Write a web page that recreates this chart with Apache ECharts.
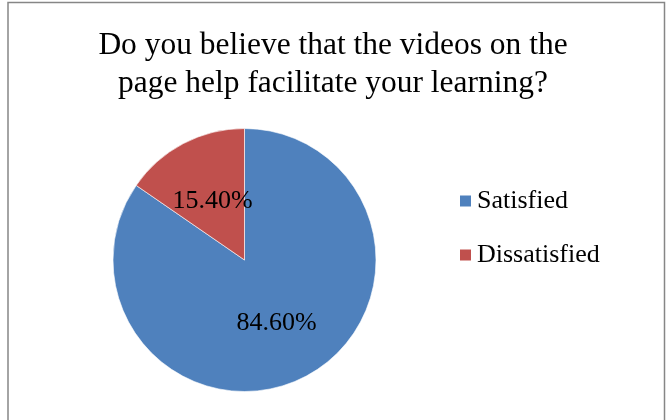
<!DOCTYPE html>
<html>
<head>
<meta charset="utf-8">
<style>
  html, body { margin: 0; padding: 0; background: #fff; }
  #chart { width: 666px; height: 420px; }
</style>
<script src="https://cdn.jsdelivr.net/npm/echarts@6/dist/echarts.min.js"></script>
</head>
<body>
<div id="chart"></div>
<script>
// Survey answers and their shares (percent)
const titleLines = ['Do you believe that the videos on the', 'page help facilitate your learning?'];
const categories = ['Satisfied', 'Dissatisfied'];
const shares = [84.6, 15.4];
const colors = ['#4F81BD', '#C0504D'];

const serif = '"Liberation Serif", "Times New Roman", serif';

const chart = echarts.init(document.getElementById('chart'), null, { renderer: 'canvas' });

chart.setOption({
  animation: false,
  backgroundColor: '#fff',
  color: colors,
  legend: {
    orient: 'vertical',
    left: 458,
    top: 188,
    padding: 0,
    itemWidth: 13,
    itemHeight: 13,
    itemGap: 28,
    icon: 'rect',
    data: categories,
    textStyle: {
      fontFamily: serif,
      fontSize: 26,
      color: '#000'
    }
  },
  graphic: [
    {
      // chart frame
      type: 'rect',
      shape: { x: 8, y: 2.5, width: 656.5, height: 440 },
      style: { fill: null, stroke: '#868686', lineWidth: 1.5 },
      silent: true
    },
    {
      // two-line heading
      type: 'text',
      x: 333,
      y: 27,
      scaleX: 1.015,
      silent: true,
      style: {
        text: titleLines.join('\n'),
        x: 0,
        y: 0,
        align: 'center',
        verticalAlign: 'top',
        font: '31px ' + serif,
        lineHeight: 38,
        fill: '#000'
      }
    }
  ],
  series: [{
    type: 'pie',
    center: [244.5, 260],
    radius: 131.5,
    startAngle: 90,
    clockwise: true,
    data: categories.map((name, i) => ({ name, value: shares[i] })),
    itemStyle: { borderColor: '#fff', borderWidth: 0.6 },
    label: {
      show: true,
      position: 'inside',
      fontFamily: serif,
      fontSize: 26,
      color: '#000',
      formatter: p => p.value.toFixed(2) + '%'
    },
    labelLayout: { dy: 2 },
    labelLine: { show: false },
    emphasis: { disabled: true }
  }]
});
</script>
</body>
</html>
